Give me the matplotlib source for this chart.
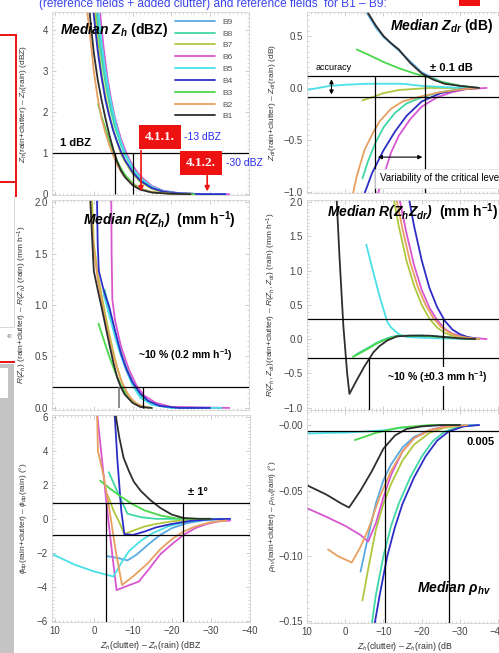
import matplotlib
matplotlib.use("Agg")
import matplotlib.pyplot as plt
from matplotlib.lines import Line2D
from matplotlib.patches import Rectangle
from matplotlib.ticker import FuncFormatter, MultipleLocator

plt.rcParams["font.family"] = ["Liberation Sans", "DejaVu Sans"]
plt.rcParams["mathtext.fontset"] = "custom"
plt.rcParams["mathtext.rm"] = "Liberation Sans"
plt.rcParams["mathtext.it"] = "Liberation Sans:italic"
plt.rcParams["mathtext.bf"] = "Liberation Sans:bold"
plt.rcParams["mathtext.bfit"] = "Liberation Sans:italic:bold"

W, H = 499, 653

SERIES = ["B9", "B8", "B7", "B6", "B5", "B4", "B3", "B2", "B1"]
COLORS = {
    "B9": "#5aaae2", "B8": "#3fd8a6", "B7": "#aec83e", "B6": "#d856d0",
    "B5": "#4ae0e8", "B4": "#2e2ec6", "B3": "#4ad84a", "B2": "#e8a060",
    "B1": "#2e2e2e",
}

# median Zh difference (dBZ) vs Zh(clutter) - Zh(rain)
ZH = {
    "B9": ([-0.9, -2, -3, -4, -5, -6, -7, -8, -10, -12, -15, -18, -22, -28, -34],
           [4.45, 3.55, 2.9, 2.35, 1.92, 1.56, 1.27, 1.03, 0.66, 0.42, 0.19, 0.08, 0.025, 0.0, 0.0]),
    "B8": ([-0.6, -1.5, -2.5, -3.5, -4.5, -5.5, -7, -8, -10, -12, -15, -18, -22, -28, -33],
           [4.45, 3.65, 3.0, 2.45, 2.0, 1.62, 1.2, 0.97, 0.62, 0.38, 0.17, 0.07, 0.02, 0.0, 0.0]),
    "B7": ([-0.3, -1, -2, -3, -4, -5, -6, -7, -8, -10, -12, -15, -18, -22, -28],
           [4.45, 3.7, 2.95, 2.4, 1.95, 1.58, 1.27, 1.0, 0.8, 0.5, 0.3, 0.13, 0.05, 0.015, 0.0]),
    "B6": ([-1.6, -2.5, -3.5, -4.5, -5.5, -7, -8.5, -10, -12, -15, -18, -22, -28, -35],
           [4.45, 3.6, 2.85, 2.3, 1.85, 1.35, 0.98, 0.7, 0.44, 0.2, 0.08, 0.025, 0.0, 0.0]),
    "B5": ([-1.2, -2, -3, -4, -5, -6, -7, -8, -10, -12, -15, -18, -22, -28, -34],
           [4.45, 3.7, 3.0, 2.45, 2.0, 1.6, 1.28, 1.02, 0.64, 0.4, 0.18, 0.07, 0.02, 0.0, 0.0]),
    "B4": ([0.1, -1, -2, -3, -4, -5, -6, -7, -8, -10, -12, -15, -18, -22, -28, -34],
           [4.45, 3.5, 2.85, 2.3, 1.9, 1.55, 1.28, 1.04, 0.84, 0.54, 0.33, 0.15, 0.06, 0.02, 0.0, 0.0]),
    "B3": ([-1.1, -2, -3, -4, -5, -6, -7, -8, -10, -12, -15, -20, -26],
           [2.2, 1.9, 1.6, 1.3, 1.05, 0.82, 0.63, 0.48, 0.27, 0.14, 0.05, 0.01, 0.0]),
    "B2": ([1.7, 1, 0, -1, -2, -3, -4, -5, -6, -7, -8, -10, -12, -15, -20, -25],
           [4.45, 3.9, 3.0, 2.35, 1.85, 1.5, 1.2, 0.95, 0.72, 0.55, 0.42, 0.24, 0.13, 0.05, 0.01, 0.0]),
    "B1": ([1.1, 0.5, 0, -1, -2, -3, -4, -5, -6, -7, -8, -10, -12, -15, -20, -25],
           [4.45, 3.9, 3.45, 2.8, 2.3, 1.85, 1.45, 1.1, 0.8, 0.58, 0.42, 0.22, 0.11, 0.04, 0.01, 0.0]),
}

# median Zdr difference (dB)
ZDR = {
    "B9": ([-5.2, -8, -10, -14, -20, -25, -30, -35],
           [0.75, 0.58, 0.49, 0.36, 0.15, 0.06, 0.02, 0.0]),
    "B8": ([-4.5, -6, -8, -10, -13, -16, -20, -25, -30, -35],
           [-0.87, -0.7, -0.52, -0.38, -0.24, -0.15, -0.09, -0.04, -0.01, 0.0]),
    "B7": ([-4.5, -7, -10, -14, -18, -22, -28, -35],
           [-0.12, -0.09, -0.05, -0.02, -0.01, 0.0, 0.0, 0.0]),
    "B6": ([-8.5, -10, -12, -14, -17, -20, -24, -28, -32, -37],
           [-1.02, -0.85, -0.62, -0.46, -0.3, -0.18, -0.09, -0.04, -0.01, 0.0]),
    "B5": ([10, 7, 4, 0, -5, -10, -15, -20, -25, -30, -35],
           [-0.02, 0.0, 0.02, 0.03, 0.04, 0.04, 0.04, 0.02, 0.01, 0.0, 0.0]),
    "B4": ([-5, -7, -10, -13, -16, -20, -25, -30, -35],
           [-1.02, -0.82, -0.6, -0.42, -0.27, -0.13, -0.05, -0.015, 0.0]),
    "B3": ([-3, -6, -10, -14, -18, -21, -25, -30, -35],
           [0.37, 0.32, 0.25, 0.19, 0.14, 0.11, 0.06, 0.02, 0.0]),
    "B2": ([-2, -3, -5, -7, -9, -12, -15, -20, -25, -30, -35],
           [-1.02, -0.85, -0.6, -0.45, -0.32, -0.2, -0.13, -0.08, -0.04, -0.015, 0.0]),
    "B1": ([-5.5, -8, -10, -12, -14, -17, -20, -23, -26, -30, -35],
           [0.75, 0.6, 0.5, 0.43, 0.37, 0.24, 0.14, 0.08, 0.04, 0.02, 0.0]),
}

# median R(Zh) difference (mm h-1)
RZH = {
    "B9": ([-2.6, -4, -6, -8, -10, -12, -15, -20, -32],
           [1.1, 0.92, 0.64, 0.42, 0.24, 0.12, 0.04, 0.005, 0.0]),
    "B8": ([-2.8, -4, -6, -8, -10, -12, -15, -20, -30],
           [1.15, 0.95, 0.66, 0.43, 0.25, 0.12, 0.04, 0.005, 0.0]),
    "B7": ([0.5, 0, -1, -2, -3, -4, -5, -6, -7, -8, -10, -12, -15],
           [2.05, 1.6, 1.3, 1.1, 0.9, 0.72, 0.55, 0.4, 0.28, 0.18, 0.07, 0.02, 0.0]),
    "B6": ([-4.5, -4.6, -4.8, -5.5, -7, -9, -11, -13, -16, -20, -35],
           [2.1, 1.5, 1.05, 0.85, 0.6, 0.38, 0.22, 0.12, 0.05, 0.01, 0.0]),
    "B5": ([-2.5, -4, -6, -8, -10, -12, -15, -20, -33],
           [1.13, 0.9, 0.62, 0.4, 0.22, 0.1, 0.03, 0.0, 0.0]),
    "B4": ([-0.8, -1.0, -1.3, -2.5, -4, -5.5, -7, -8.5, -10, -12, -14, -17, -22, -30],
           [2.1, 1.6, 1.33, 1.15, 0.98, 0.75, 0.53, 0.37, 0.25, 0.14, 0.07, 0.02, 0.0, 0.0]),
    "B3": ([-1.2, -2.5, -4, -5.5, -7, -9, -11, -13],
           [0.82, 0.67, 0.5, 0.35, 0.22, 0.1, 0.03, 0.0]),
    "B2": ([1.0, 0, -1, -3, -5, -7, -9, -11, -14],
           [2.1, 1.55, 1.25, 0.85, 0.52, 0.27, 0.12, 0.04, 0.0]),
    "B1": ([1.0, 0.5, 0, -1, -2, -3, -4, -5, -6, -7, -8, -10, -12, -15],
           [2.1, 1.7, 1.33, 1.15, 0.98, 0.8, 0.62, 0.45, 0.3, 0.2, 0.13, 0.05, 0.01, 0.0]),
}

# median R(Zh, Zdr) difference (mm h-1)
RZDR = {
    "B9": ([-3, -5, -7, -9, -11, -13, -20, -26, -33],
           [-0.22, -0.16, -0.1, -0.04, 0.01, 0.04, 0.05, 0.03, 0.0]),
    "B8": ([-2.5, -4, -6, -8, -10, -12, -14, -20, -25, -30, -35],
           [-0.24, -0.19, -0.13, -0.06, -0.01, 0.03, 0.05, 0.05, 0.03, 0.01, 0.0]),
    "B7": ([-12.5, -14, -16, -18, -20, -22, -24, -26, -28, -31, -35],
           [2.1, 1.65, 1.15, 0.78, 0.5, 0.3, 0.17, 0.09, 0.05, 0.02, 0.0]),
    "B6": ([-14, -16, -18, -20, -22, -24, -26, -28, -31, -37],
           [2.1, 1.55, 1.08, 0.72, 0.46, 0.28, 0.15, 0.08, 0.03, 0.0]),
    "B5": ([-5.5, -7, -9, -11, -12, -14, -16, -20, -25, -35],
           [1.38, 1.05, 0.62, 0.25, 0.17, 0.07, 0.03, 0.02, 0.01, 0.0]),
    "B4": ([-16.5, -18, -20, -22, -24, -26, -28, -30, -32, -35],
           [2.1, 1.65, 1.15, 0.75, 0.47, 0.27, 0.14, 0.07, 0.03, 0.0]),
    "B3": ([-2, -4, -6, -8, -10, -12, -14, -20, -25, -30, -35],
           [-0.26, -0.2, -0.14, -0.07, -0.02, 0.02, 0.045, 0.05, 0.03, 0.01, 0.0]),
    "B2": ([-13.2, -15, -17, -19, -21, -23, -25, -27, -29, -32, -35],
           [2.1, 1.6, 1.12, 0.76, 0.5, 0.31, 0.18, 0.1, 0.05, 0.02, 0.0]),
    "B1": ([2.3, 1.5, 0.5, -0.5, -1.1, -3, -5, -7.4, -9, -11, -13.5, -17, -22, -26, -30, -34],
           [2.1, 1.2, 0.2, -0.5, -0.8, -0.6, -0.4, -0.19, -0.1, -0.02, 0.04, 0.05, 0.05, 0.03, 0.01, 0.0]),
}

# median phidp difference (deg)
PHIDP = {
    "B9": ([-3.4, -6, -8.6, -11, -14, -17, -20, -24, -28, -33],
           [-2.2, -2.3, -2.45, -2.1, -1.5, -0.95, -0.55, -0.25, -0.1, 0.0]),
    "B8": ([-3.8, -6, -8.6, -12, -16, -25, -33],
           [2.75, 1.6, 0.3, 0.1, 0.0, 0.0, 0.0]),
    "B7": ([-3.5, -5, -6.5, -7.8, -10, -13, -16, -20, -25, -30],
           [1.4, 0.5, -0.2, -0.9, -0.7, -0.45, -0.3, -0.15, -0.05, 0.0]),
    "B6": ([-0.8, -2, -3.5, -5, -5.8, -8, -11.5, -14, -17, -20, -23, -26, -29, -32, -35],
           [6.2, 3.6, 0.3, -2.7, -4.2, -4.0, -3.7, -3.0, -2.1, -1.5, -0.95, -0.55, -0.3, -0.15, -0.1]),
    "B5": ([11, 5, 0, -5, -7, -9, -12, -15, -19, -24, -30, -35],
           [-2.05, -2.7, -3.1, -3.4, -2.6, -1.9, -1.3, -0.85, -0.45, -0.15, -0.03, 0.0]),
    "B4": ([-5.3, -6, -7, -7.8, -10, -13, -16, -20, -25, -30, -35],
           [6.2, 3.5, 0.5, -0.9, -0.95, -0.75, -0.5, -0.3, -0.12, -0.03, 0.0]),
    "B3": ([-1.6, -4, -7, -10, -13, -17, -21, -25, -30],
           [2.25, 1.8, 1.3, 0.85, 0.5, 0.2, 0.03, 0.0, 0.0]),
    "B2": ([-0.8, -1, -2.5, -4, -5.5, -7.2, -10, -13.7, -17, -20, -23, -26, -30, -34],
           [6.2, 4.0, 2.5, 0.5, -1.8, -3.9, -3.4, -2.65, -1.8, -1.2, -0.75, -0.45, -0.2, -0.1]),
    "B1": ([-5.5, -6.5, -7.6, -9, -10.2, -12, -14.5, -17, -20, -23, -27, -30],
           [6.2, 4.8, 3.6, 2.8, 2.2, 1.65, 1.1, 0.65, 0.25, 0.05, 0.0, 0.0]),
}

# median rhohv difference
RHOHV = {
    "B9": ([-4, -6, -8, -10, -12, -15, -18, -22, -26, -30],
           [-0.112, -0.085, -0.06, -0.042, -0.03, -0.017, -0.009, -0.004, -0.001, 0.0]),
    "B8": ([-6.8, -8, -10, -12, -14, -17, -20, -23, -26, -30, -34],
           [-0.155, -0.13, -0.1, -0.077, -0.06, -0.04, -0.024, -0.012, -0.005, -0.001, 0.0]),
    "B7": ([-4.5, -6, -8, -10, -12, -15, -18, -22, -26, -32],
           [-0.134, -0.11, -0.08, -0.06, -0.045, -0.027, -0.015, -0.006, -0.002, 0.0]),
    "B6": ([10, 5, 0, -4, -6, -8, -10, -12, -15, -18, -22, -26, -30, -35],
           [-0.0635, -0.07, -0.077, -0.084, -0.089, -0.075, -0.055, -0.038, -0.02, -0.01, -0.004, -0.001, 0.0, 0.0]),
    "B5": ([10, 5, 0, -5, -10, -15, -20, -25, -35],
           [-0.0065, -0.006, -0.0058, -0.005, -0.004, -0.002, -0.001, 0.0, 0.0]),
    "B4": ([-7.5, -9, -11, -13, -15, -18, -21, -24, -27, -31, -35],
           [-0.155, -0.13, -0.1, -0.078, -0.06, -0.04, -0.024, -0.012, -0.005, -0.001, 0.0]),
    "B3": ([-2.5, -5, -8, -11, -14, -18, -22, -30],
           [-0.0115, -0.009, -0.006, -0.004, -0.002, -0.001, 0.0, 0.0]),
    "B2": ([4.5, 2, -1.7, -4, -6, -9, -12, -15, -18, -22, -27, -32],
           [-0.095, -0.1, -0.105, -0.093, -0.08, -0.055, -0.035, -0.02, -0.01, -0.004, -0.001, 0.0]),
    "B1": ([10, 5, 1, -1, -4, -7, -10, -13, -16, -20, -25, -30],
           [-0.046, -0.053, -0.06, -0.063, -0.05, -0.035, -0.018, -0.008, -0.003, -0.001, 0.0, 0.0]),
}

DASH = "\u2013"
XLABEL = "$Z_h$(clutter) " + DASH + " $Z_h$(rain) (dB"


def fig_box(left, top, right, bottom):
    return [left / W, 1 - bottom / H, (right - left) / W, (bottom - top) / H]


def minus(fmt):
    def f(v, pos):
        if abs(v) < 1e-9:
            v = 0.0
        return (fmt % v).replace("-", "\u2212")
    return FuncFormatter(f)


def make_axes(fig, box, xlim, ylim, ymajor, yminor, yfmt, ylabel, label_x, xlabel=None):
    ax = fig.add_axes(fig_box(*box))
    ax.set_xlim(*xlim)
    ax.set_ylim(*ylim)
    ax.xaxis.set_major_locator(MultipleLocator(10))
    ax.xaxis.set_minor_locator(MultipleLocator(1))
    ax.yaxis.set_major_locator(MultipleLocator(ymajor))
    ax.yaxis.set_minor_locator(MultipleLocator(yminor))
    ax.yaxis.set_major_formatter(minus(yfmt))
    ax.tick_params(which="both", direction="in", top=True, right=True,
                   color="#c4c4c4", labelsize=7, labelcolor="#444444", pad=3)
    ax.tick_params(which="major", length=3, width=0.6)
    ax.tick_params(which="minor", length=1.6, width=0.5)
    for s in ax.spines.values():
        s.set_color("#d4d4d4")
        s.set_linewidth(0.6)
    ax.set_ylabel(ylabel, fontsize=6, color="#333333")
    ax.yaxis.set_label_coords(label_x, 0.5)
    if xlabel:
        ax.set_xlabel(xlabel, fontsize=6.3, color="#333333", labelpad=2)
    else:
        ax.tick_params(labelbottom=False)
    return ax


def draw_curves(ax, data, lw=1.3):
    for name in SERIES:
        xs, ys = data[name]
        ax.plot(xs, ys, color=COLORS[name], lw=lw, label=name,
                solid_capstyle="round", solid_joinstyle="round")


def bold_title(ax, x, y, text, ha="left"):
    ax.text(x, y, text, fontsize=10, ha=ha, va="center", color="black")


fig = plt.figure(figsize=(W / 100, H / 100), dpi=100)

# ---- left column background fragments ----
red = "#ee1111"
for (x0, y0, x1, y1) in [(0, 35, 16, 35), (16, 35, 16, 196), (0, 182, 16, 182), (0, 362, 14, 362)]:
    fig.add_artist(Line2D([x0 / W, x1 / W], [1 - y0 / H, 1 - y1 / H], color=red, lw=1.4))
fig.add_artist(Line2D([14 / W, 14 / W], [1 - 196 / H, 1 - 327 / H], color="#d8d8d8", lw=0.7))
fig.add_artist(Line2D([0, 14 / W], [1 - 327 / H, 1 - 327 / H], color="#d8d8d8", lw=0.7))
fig.text(10 / W, 1 - 337 / H, "40", fontsize=3.5, color="#777777", ha="center", va="center")
fig.add_artist(Rectangle((0, 0), 14 / W, 1 - 364 / H, transform=fig.transFigure,
                         facecolor="#c4c4c4", edgecolor="none"))
fig.add_artist(Rectangle((0, 1 - 398 / H), 8 / W, 30 / H, transform=fig.transFigure,
                         facecolor="white", edgecolor="none"))

# top banner text (cut by the image edge)
fig.text(39 / W, 1 - 6.5 / H,
         "(reference fields + added clutter) and reference fields  for B1 " + DASH + " B9:",
         fontsize=8.6, color="#3a44ee", ha="left", va="baseline")
fig.add_artist(Rectangle((459 / W, 1 - 6 / H), 21 / W, 6 / H, transform=fig.transFigure,
                         facecolor=red, edgecolor="none"))

LEFT_X = (10.8, -40.1)
RIGHT_X = (10.0, -41.0)

# ---- panel 1: Zh ----
ax1 = make_axes(fig, (52, 12, 249, 195), LEFT_X, (-0.02, 4.44), 1, 0.1, "%d",
                "$Z_h$(rain+clutter) " + DASH + " $Z_h$(rain) (dBZ)", -0.117)
draw_curves(ax1, ZH)
ax1.legend(loc="upper left", bbox_to_anchor=(0.616, 0.977), frameon=False, fontsize=6,
           labelcolor="#555555", handlelength=4.8, handletextpad=0.85,
           labelspacing=0.48, borderpad=0.2, borderaxespad=0)
bold_title(ax1, 8.7, 4.0, r"$\mathbfit{Median\ Z_h}$ $\mathbf{(dBZ)}$")
ax1.axhline(1.0, color="black", lw=0.9)
ax1.vlines([-5.5, -10.2], 0, 1.0, colors="black", lw=0.9)
ax1.text(8.7, 1.24, "1 dBZ", fontsize=8, fontweight="bold", ha="left", va="center")
box_kw = dict(boxstyle="square,pad=0.45", facecolor=red, edgecolor="none")
ax1.text(-17.1, 1.39, "4.1.1.", fontsize=9.5, fontweight="bold", color="white",
         family="Liberation Serif", ha="center", va="center", bbox=box_kw)
ax1.text(-27.7, 0.76, "4.1.2.", fontsize=9.5, fontweight="bold", color="white",
         family="Liberation Serif", ha="center", va="center", bbox=box_kw)
arrow_kw = dict(arrowstyle="-|>", color=red, lw=1.2, mutation_scale=7)
ax1.annotate("", xy=(-12.2, 0.0), xytext=(-12.2, 1.13), arrowprops=arrow_kw)
ax1.annotate("", xy=(-29.3, 0.0), xytext=(-29.3, 0.52), arrowprops=arrow_kw)
ax1.text(-23.4, 1.39, "-13 dBZ", fontsize=7.5, color="#2a2aee", ha="left", va="center")
ax1.text(-34.2, 0.76, "-30 dBZ", fontsize=7.5, color="#2a2aee", ha="left", va="center")

# ---- panel 2: Zdr ----
ax2 = make_axes(fig, (307, 12, 502, 193), RIGHT_X, (-1.01, 0.73), 0.5, 0.05, "%.1f",
                "$Z_{dr}$(rain+clutter) " + DASH + " $Z_{dr}$(rain) (dB)", -0.149)
draw_curves(ax2, ZDR)
bold_title(ax2, -11.7, 0.6, r"$\mathbfit{Median\ Z_{dr}}$ $\mathbf{(dB)}$")
ax2.axhline(0.11, color="black", lw=0.9)
ax2.axhline(-0.09, color="black", lw=0.9)
ax2.vlines([-7.8, -20.9], -1.01, 0.11, colors="black", lw=0.9)
dbl = dict(arrowstyle="<|-|>", color="black", lw=0.8, mutation_scale=6)
ax2.annotate("", xy=(3.6, 0.11), xytext=(3.6, -0.09), arrowprops=dbl)
ax2.annotate("", xy=(-7.8, -0.665), xytext=(-20.9, -0.665), arrowprops=dbl)
ax2.text(7.8, 0.2, "accuracy", fontsize=6.5, ha="left", va="center")
ax2.text(-22.2, 0.19, "\u00b1 0.1 dB", fontsize=8, fontweight="bold", ha="left", va="center")
ax2.text(-9.0, -0.87, "Variability of the critical level", fontsize=7, ha="left", va="center",
         bbox=dict(boxstyle="square,pad=0.45", facecolor="white", edgecolor="#dddddd", lw=0.5))

# ---- panel 3: R(Zh) ----
ax3 = make_axes(fig, (52, 200, 249, 410), LEFT_X, (-0.02, 2.02), 0.5, 0.05, "%.1f",
                "$R(Z_h)$ (rain+clutter) " + DASH + " $R(Z_h)$ (rain) (mm h$^{-1}$)", -0.117)
draw_curves(ax3, RZH)
bold_title(ax3, 2.8, 1.82, r"$\mathbfit{Median\ R(Z_h)}$  $\mathbf{(mm\ h^{-1})}$")
ax3.axhline(0.2, color="black", lw=0.9)
ax3.vlines([-6.5], 0, 0.2, colors="#777777", lw=1.2)
ax3.vlines([-12.7], 0, 0.2, colors="black", lw=0.9)
ax3.text(-11.4, 0.51, r"~10 % (0.2 mm h$^{\mathbf{-1}}$)", fontsize=7.5, fontweight="bold",
         ha="left", va="center")

# ---- panel 4: R(Zh, Zdr) ----
ax4 = make_axes(fig, (307, 200, 502, 410), RIGHT_X, (-1.035, 2.03), 0.5, 0.05, "%.1f",
                "$R(Z_h,Z_{dr})$(rain+clutter) " + DASH + " $R(Z_h,Z_{dr})$ (rain) (mm h$^{-1}$)",
                -0.149)
draw_curves(ax4, RZDR)
bold_title(ax4, 4.7, 1.85, r"$\mathbfit{Median\ R(Z_hZ_{dr})}$  $\mathbf{(mm\ h^{-1})}$")
ax4.axhline(0.29, color="black", lw=0.9)
ax4.axhline(-0.28, color="black", lw=0.9)
ax4.vlines([-6.1], -1.035, -0.28, colors="black", lw=0.9)
ax4.vlines([-25.5], -1.035, 0.29, colors="black", lw=0.9)
ax4.text(-10.9, -0.55, r"~10 % ($\mathbf{\pm}$0.3 mm h$^{\mathbf{-1}}$)", fontsize=7.5,
         fontweight="bold", ha="left", va="center",
         bbox=dict(boxstyle="square,pad=0.15", facecolor="white", edgecolor="none"))

# ---- panel 5: phidp ----
ax5 = make_axes(fig, (52, 415, 250, 622), LEFT_X, (-6.08, 6.12), 2, 0.2, "%d",
                r"$\phi_{dp}$(rain+clutter) " + DASH + r" $\phi_{dp}$(rain) ($\degree$)", -0.117,
                xlabel=XLABEL + "Z")
draw_curves(ax5, PHIDP)
ax5.axhline(0.95, color="black", lw=0.9)
ax5.axhline(-0.94, color="black", lw=0.9)
ax5.vlines([-3.2, -23.0], -6.08, 0.95, colors="black", lw=0.9)
ax5.text(-24.1, 1.6, "\u00b1 1\u00b0", fontsize=8, fontweight="bold", ha="left", va="center")

# ---- panel 6: rhohv ----
ax6 = make_axes(fig, (307, 410, 502, 623), RIGHT_X, (-0.1512, 0.0115), 0.05, 0.005, "%.2f",
                r"$\rho_{hv}$(rain+clutter) " + DASH + r" $\rho_{hv}$(rain) ($\degree$)", -0.149,
                xlabel=XLABEL)
ax6.yaxis.set_major_formatter(FuncFormatter(lambda v, p: "\u2212%.2f" % abs(v)))
draw_curves(ax6, RHOHV)
ax6.axhline(-0.0043, color="black", lw=0.9)
ax6.vlines([-10.4, -27.2], -0.1512, -0.0043, colors="black", lw=0.9)
ax6.text(-31.8, -0.0127, "0.005", fontsize=8, fontweight="bold", ha="left", va="center")
bold_title(ax6, -18.7, -0.1245, r"$\mathbfit{Median\ \rho_{hv}}$")

fig.savefig("out.png", dpi=100)
